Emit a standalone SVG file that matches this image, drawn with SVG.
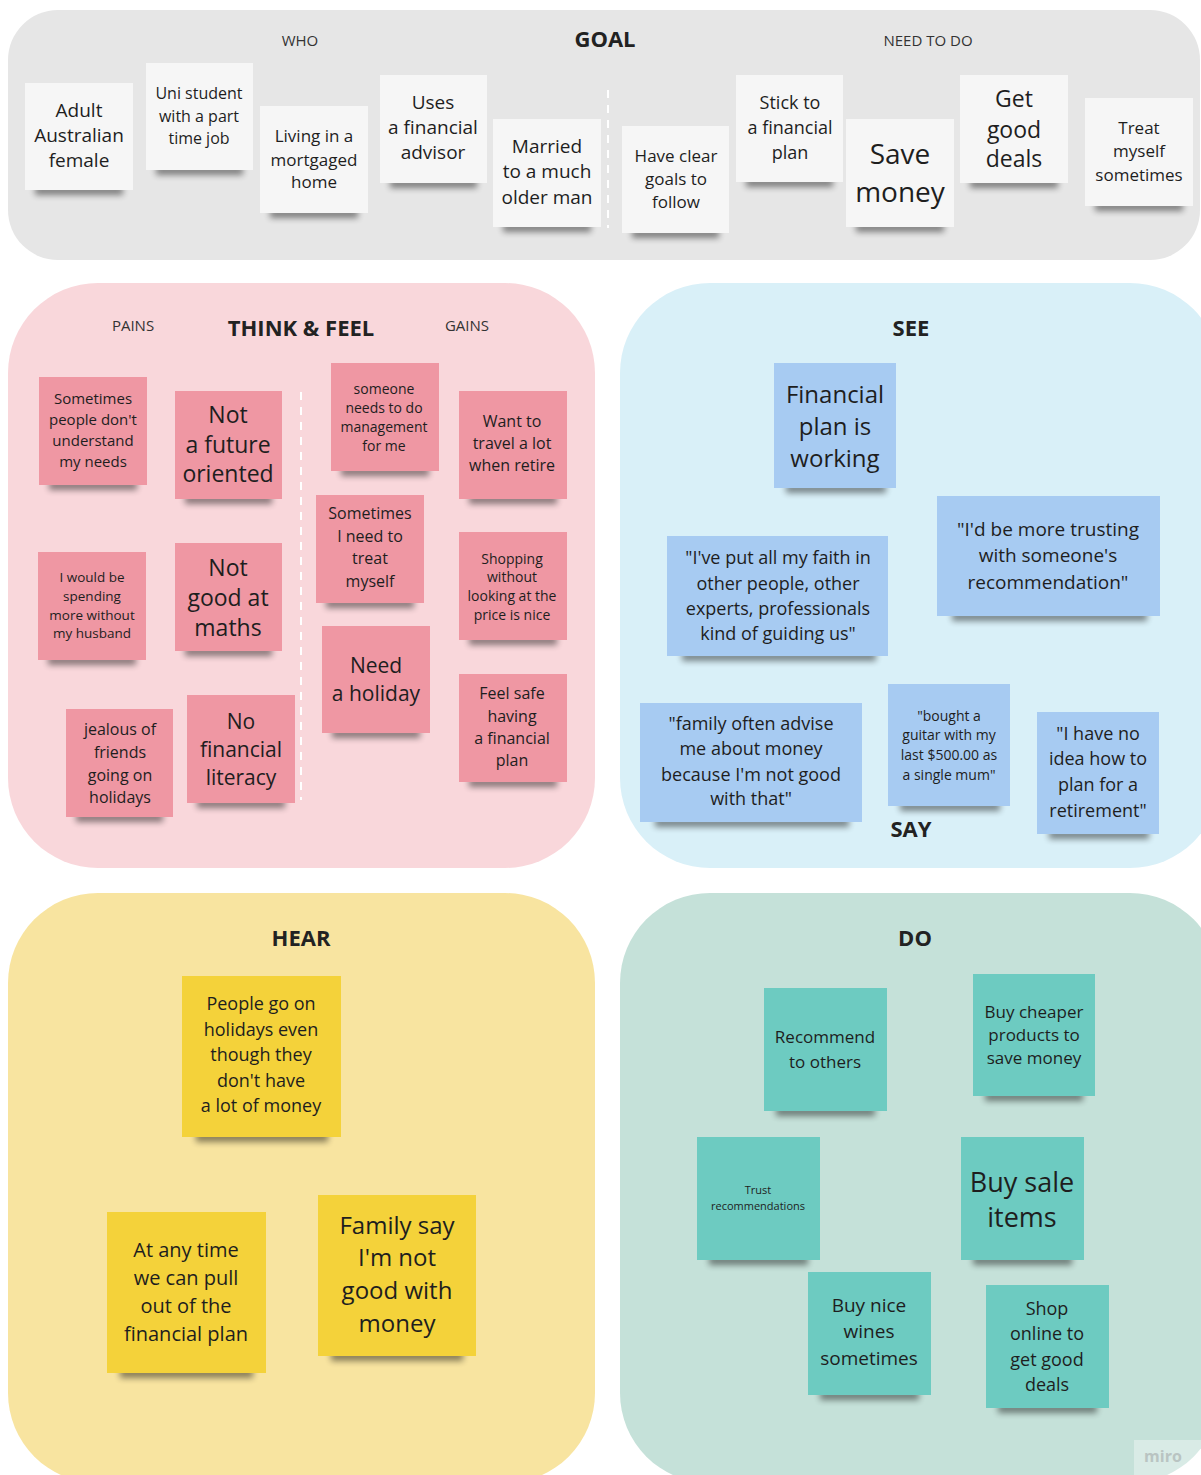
<svg xmlns="http://www.w3.org/2000/svg" width="1201" height="1475" viewBox="0 0 1201 1475">
<style>
text{font-family:"Open Sans","Noto Sans","Liberation Sans",sans-serif;fill:#1e1e1e;text-anchor:middle;dominant-baseline:central}
.h{font-weight:bold;font-size:22px;fill:#222}
.lbl{font-size:15px;fill:#333}
.sh{fill:#000;opacity:.45;filter:url(#blur)}
.w{fill:#f6f6f6}
.p{fill:#ef97a3}
.b{fill:#a7cbf2}
.y{fill:#f4d23a}
.t{fill:#6dcbc1}
.dash{stroke:#fff;stroke-width:2;stroke-dasharray:8 7;fill:none}
</style>
<defs>
<filter id="blur" x="-20%" y="-100%" width="140%" height="300%"><feGaussianBlur stdDeviation="3"/></filter>
</defs>
<rect width="1201" height="1475" fill="#ffffff"/>

<!-- panels -->
<g id="panel-goal"><rect x="8" y="10" width="1192" height="250" rx="50" fill="#e6e6e6"/>
<text class="lbl" x="300" y="40">WHO</text><text class="h" x="605" y="38">GOAL</text><text class="lbl" x="928" y="40">NEED TO DO</text>
<line class="dash" x1="608" y1="90" x2="608" y2="228"/></g>
<g id="panel-think"><rect x="8" y="283" width="587" height="585" rx="90" fill="#f9d7db"/>
<text class="lbl" x="133" y="325">PAINS</text><text class="h" x="301" y="327">THINK &amp; FEEL</text><text class="lbl" x="467" y="325">GAINS</text>
<line class="dash" x1="301" y1="392" x2="301" y2="800"/></g>
<g id="panel-see"><rect x="620" y="283" width="600" height="585" rx="90" fill="#d9f0f8"/>
<text class="h" x="911" y="327">SEE</text><text class="h" x="911" y="828">SAY</text></g>
<g id="panel-hear"><rect x="8" y="893" width="587" height="590" rx="90" fill="#f8e4a0"/>
<text class="h" x="301" y="937">HEAR</text></g>
<g id="panel-do"><rect x="620" y="893" width="600" height="590" rx="90" fill="#c5e1d9"/>
<text class="h" x="915" y="937">DO</text></g>

<g id="connectors"></g>

<!-- GOAL stickies -->
<g id="g1"><rect class="sh" x="35" y="186" width="88" height="9"/><rect class="w" x="25" y="83" width="108" height="107"/>
<text font-size="19"><tspan x="79" y="110">Adult</tspan><tspan x="79" y="135">Australian</tspan><tspan x="79" y="160">female</tspan></text></g>
<g id="g2"><rect class="sh" x="156" y="166" width="87" height="9"/><rect class="w" x="146" y="63" width="107" height="107"/>
<text font-size="16"><tspan x="199" y="93">Uni student</tspan><tspan x="199" y="116">with a part</tspan><tspan x="199" y="138">time job</tspan></text></g>
<g id="g3"><rect class="sh" x="270" y="209" width="88" height="9"/><rect class="w" x="260" y="106" width="108" height="107"/>
<text font-size="17"><tspan x="314" y="135">Living in a</tspan><tspan x="314" y="159">mortgaged</tspan><tspan x="314" y="181">home</tspan></text></g>
<g id="g4"><rect class="sh" x="390" y="179" width="87" height="9"/><rect class="w" x="380" y="75" width="107" height="108"/>
<text font-size="19"><tspan x="433" y="102">Uses</tspan><tspan x="433" y="127">a financial</tspan><tspan x="433" y="152">advisor</tspan></text></g>
<g id="g5"><rect class="sh" x="503" y="223" width="88" height="9"/><rect class="w" x="493" y="119" width="108" height="108"/>
<text font-size="19"><tspan x="547" y="146">Married</tspan><tspan x="547" y="171">to a much</tspan><tspan x="547" y="197">older man</tspan></text></g>
<g id="g6"><rect class="sh" x="632" y="229" width="87" height="9"/><rect class="w" x="622" y="126" width="107" height="107"/>
<text font-size="17"><tspan x="676" y="155">Have clear</tspan><tspan x="676" y="178">goals to</tspan><tspan x="676" y="201">follow</tspan></text></g>
<g id="g7"><rect class="sh" x="746" y="178" width="87" height="9"/><rect class="w" x="736" y="75" width="107" height="107"/>
<text font-size="18"><tspan x="790" y="102">Stick to</tspan><tspan x="790" y="127">a financial</tspan><tspan x="790" y="152">plan</tspan></text></g>
<g id="g8"><rect class="sh" x="856" y="223" width="88" height="9"/><rect class="w" x="846" y="119" width="108" height="108"/>
<text font-size="28"><tspan x="900" y="153">Save</tspan><tspan x="900" y="191">money</tspan></text></g>
<g id="g9"><rect class="sh" x="970" y="179" width="88" height="9"/><rect class="w" x="960" y="75" width="108" height="108"/>
<text font-size="23"><tspan x="1014" y="98">Get</tspan><tspan x="1014" y="129">good</tspan><tspan x="1014" y="158">deals</tspan></text></g>
<g id="g10"><rect class="sh" x="1095" y="202" width="88" height="9"/><rect class="w" x="1085" y="98" width="108" height="108"/>
<text font-size="17"><tspan x="1139" y="127">Treat</tspan><tspan x="1139" y="150">myself</tspan><tspan x="1139" y="174">sometimes</tspan></text></g>

<!-- THINK & FEEL stickies -->
<g id="t1"><rect class="sh" x="49" y="481" width="88" height="9"/><rect class="p" x="39" y="377" width="108" height="108"/>
<text font-size="15"><tspan x="93" y="398">Sometimes</tspan><tspan x="93" y="419">people don't</tspan><tspan x="93" y="440">understand</tspan><tspan x="93" y="461">my needs</tspan></text></g>
<g id="t2"><rect class="sh" x="185" y="495" width="87" height="9"/><rect class="p" x="175" y="391" width="107" height="108"/>
<text font-size="23"><tspan x="228" y="414">Not</tspan><tspan x="228" y="444">a future</tspan><tspan x="228" y="473">oriented</tspan></text></g>
<g id="t3"><rect class="sh" x="341" y="467" width="88" height="9"/><rect class="p" x="331" y="363" width="108" height="108"/>
<text font-size="14"><tspan x="384" y="388">someone</tspan><tspan x="384" y="407">needs to do</tspan><tspan x="384" y="426">management</tspan><tspan x="384" y="445">for me</tspan></text></g>
<g id="t4"><rect class="sh" x="469" y="495" width="88" height="9"/><rect class="p" x="459" y="391" width="108" height="108"/>
<text font-size="16"><tspan x="512" y="421">Want to</tspan><tspan x="512" y="443">travel a lot</tspan><tspan x="512" y="465">when retire</tspan></text></g>
<g id="t5"><rect class="sh" x="48" y="656" width="88" height="9"/><rect class="p" x="38" y="552" width="108" height="108"/>
<text font-size="13.5"><tspan x="92" y="577">I would be</tspan><tspan x="92" y="596">spending</tspan><tspan x="92" y="615">more without</tspan><tspan x="92" y="633">my husband</tspan></text></g>
<g id="t6"><rect class="sh" x="185" y="647" width="87" height="9"/><rect class="p" x="175" y="543" width="107" height="108"/>
<text font-size="23"><tspan x="228" y="567">Not</tspan><tspan x="228" y="597">good at</tspan><tspan x="228" y="627">maths</tspan></text></g>
<g id="t7"><rect class="sh" x="326" y="599" width="88" height="9"/><rect class="p" x="316" y="495" width="108" height="108"/>
<text font-size="16"><tspan x="370" y="513">Sometimes</tspan><tspan x="370" y="536">I need to</tspan><tspan x="370" y="558">treat</tspan><tspan x="370" y="581">myself</tspan></text></g>
<g id="t8"><rect class="sh" x="469" y="636" width="88" height="9"/><rect class="p" x="459" y="532" width="108" height="108"/>
<text font-size="14"><tspan x="512" y="558">Shopping</tspan><tspan x="512" y="576">without</tspan><tspan x="512" y="595">looking at the</tspan><tspan x="512" y="614">price is nice</tspan></text></g>
<g id="t9"><rect class="sh" x="332" y="729" width="88" height="9"/><rect class="p" x="322" y="626" width="108" height="107"/>
<text font-size="21"><tspan x="376" y="665">Need</tspan><tspan x="376" y="693">a holiday</tspan></text></g>
<g id="t10"><rect class="sh" x="469" y="778" width="88" height="9"/><rect class="p" x="459" y="674" width="108" height="108"/>
<text font-size="16"><tspan x="512" y="693">Feel safe</tspan><tspan x="512" y="716">having</tspan><tspan x="512" y="738">a financial</tspan><tspan x="512" y="760">plan</tspan></text></g>
<g id="t11"><rect class="sh" x="76" y="813" width="87" height="9"/><rect class="p" x="66" y="709" width="107" height="108"/>
<text font-size="16"><tspan x="120" y="729">jealous of</tspan><tspan x="120" y="752">friends</tspan><tspan x="120" y="775">going on</tspan><tspan x="120" y="797">holidays</tspan></text></g>
<g id="t12"><rect class="sh" x="197" y="799" width="88" height="9"/><rect class="p" x="187" y="695" width="108" height="108"/>
<text font-size="21"><tspan x="241" y="721">No</tspan><tspan x="241" y="749">financial</tspan><tspan x="241" y="777">literacy</tspan></text></g>

<!-- SEE / SAY stickies -->
<g id="s1"><rect class="sh" x="786" y="484" width="100" height="9"/><rect class="b" x="774" y="363" width="122" height="125"/>
<text font-size="24"><tspan x="835" y="393">Financial</tspan><tspan x="835" y="425">plan is</tspan><tspan x="835" y="457">working</tspan></text></g>
<g id="s2"><rect class="sh" x="952" y="612" width="195" height="9"/><rect class="b" x="937" y="496" width="223" height="120"/>
<text font-size="19"><tspan x="1048" y="529">"I'd be more trusting</tspan><tspan x="1048" y="555">with someone's</tspan><tspan x="1048" y="582">recommendation"</tspan></text></g>
<g id="s3"><rect class="sh" x="682" y="652" width="194" height="9"/><rect class="b" x="667" y="536" width="221" height="120"/>
<text font-size="18"><tspan x="778" y="557">"I've put all my faith in</tspan><tspan x="778" y="583">other people, other</tspan><tspan x="778" y="608">experts, professionals</tspan><tspan x="778" y="633">kind of guiding us"</tspan></text></g>
<g id="s4"><rect class="sh" x="655" y="818" width="194" height="9"/><rect class="b" x="640" y="703" width="222" height="119"/>
<text font-size="18"><tspan x="751" y="723">"family often advise</tspan><tspan x="751" y="748">me about money</tspan><tspan x="751" y="774">because I'm not  good</tspan><tspan x="751" y="798">with that"</tspan></text></g>
<g id="s5"><rect class="sh" x="900" y="802" width="100" height="9"/><rect class="b" x="888" y="684" width="122" height="122"/>
<text font-size="14"><tspan x="949" y="715">"bought a</tspan><tspan x="949" y="734">guitar with my</tspan><tspan x="949" y="754">last $500.00 as</tspan><tspan x="949" y="774">a single mum"</tspan></text></g>
<g id="s6"><rect class="sh" x="1049" y="830" width="100" height="9"/><rect class="b" x="1037" y="712" width="122" height="122"/>
<text font-size="18"><tspan x="1098" y="733">"I have no</tspan><tspan x="1098" y="758">idea how to</tspan><tspan x="1098" y="784">plan for a</tspan><tspan x="1098" y="810">retirement"</tspan></text></g>

<!-- HEAR stickies -->
<g id="h1"><rect class="sh" x="196" y="1132" width="132" height="10"/><rect class="y" x="182" y="976" width="159" height="161"/>
<text font-size="18"><tspan x="261" y="1003">People go on</tspan><tspan x="261" y="1029">holidays even</tspan><tspan x="261" y="1054">though they</tspan><tspan x="261" y="1080">don't have</tspan><tspan x="261" y="1105">a lot of money</tspan></text></g>
<g id="h2"><rect class="sh" x="120" y="1368" width="133" height="10"/><rect class="y" x="107" y="1212" width="159" height="161"/>
<text font-size="20"><tspan x="186" y="1249">At any time</tspan><tspan x="186" y="1277">we can pull</tspan><tspan x="186" y="1305">out of the</tspan><tspan x="186" y="1333">financial plan</tspan></text></g>
<g id="h3"><rect class="sh" x="331" y="1351" width="132" height="10"/><rect class="y" x="318" y="1195" width="158" height="161"/>
<text font-size="24"><tspan x="397" y="1224">Family say</tspan><tspan x="397" y="1256">I'm not</tspan><tspan x="397" y="1289">good with</tspan><tspan x="397" y="1322">money</tspan></text></g>

<!-- DO stickies -->
<g id="d1"><rect class="sh" x="776" y="1107" width="99" height="9"/><rect class="t" x="764" y="988" width="123" height="123"/>
<text font-size="17"><tspan x="825" y="1036">Recommend</tspan><tspan x="825" y="1061">to others</tspan></text></g>
<g id="d2"><rect class="sh" x="985" y="1092" width="98" height="9"/><rect class="t" x="973" y="974" width="122" height="122"/>
<text font-size="17"><tspan x="1034" y="1011">Buy cheaper</tspan><tspan x="1034" y="1034">products to</tspan><tspan x="1034" y="1057">save money</tspan></text></g>
<g id="d3"><rect class="sh" x="709" y="1256" width="99" height="9"/><rect class="t" x="697" y="1137" width="123" height="123"/>
<text font-size="11"><tspan x="758" y="1189">Trust</tspan><tspan x="758" y="1205">recommendations</tspan></text></g>
<g id="d4"><rect class="sh" x="973" y="1256" width="99" height="9"/><rect class="t" x="961" y="1137" width="123" height="123"/>
<text font-size="27"><tspan x="1022" y="1181">Buy sale</tspan><tspan x="1022" y="1216">items</tspan></text></g>
<g id="d5"><rect class="sh" x="820" y="1391" width="99" height="9"/><rect class="t" x="808" y="1272" width="123" height="123"/>
<text font-size="19"><tspan x="869" y="1305">Buy nice</tspan><tspan x="869" y="1331">wines</tspan><tspan x="869" y="1358">sometimes</tspan></text></g>
<g id="d6"><rect class="sh" x="998" y="1404" width="99" height="9"/><rect class="t" x="986" y="1285" width="123" height="123"/>
<text font-size="18"><tspan x="1047" y="1308">Shop</tspan><tspan x="1047" y="1333">online to</tspan><tspan x="1047" y="1359">get good</tspan><tspan x="1047" y="1384">deals</tspan></text></g>

<g id="watermark"><rect x="1134" y="1440" width="67" height="35" fill="#ffffff" opacity="0.35"/>
<text x="1163" y="1456" font-size="16" style="fill:#b9c4c2;font-weight:bold">miro</text></g>
</svg>
